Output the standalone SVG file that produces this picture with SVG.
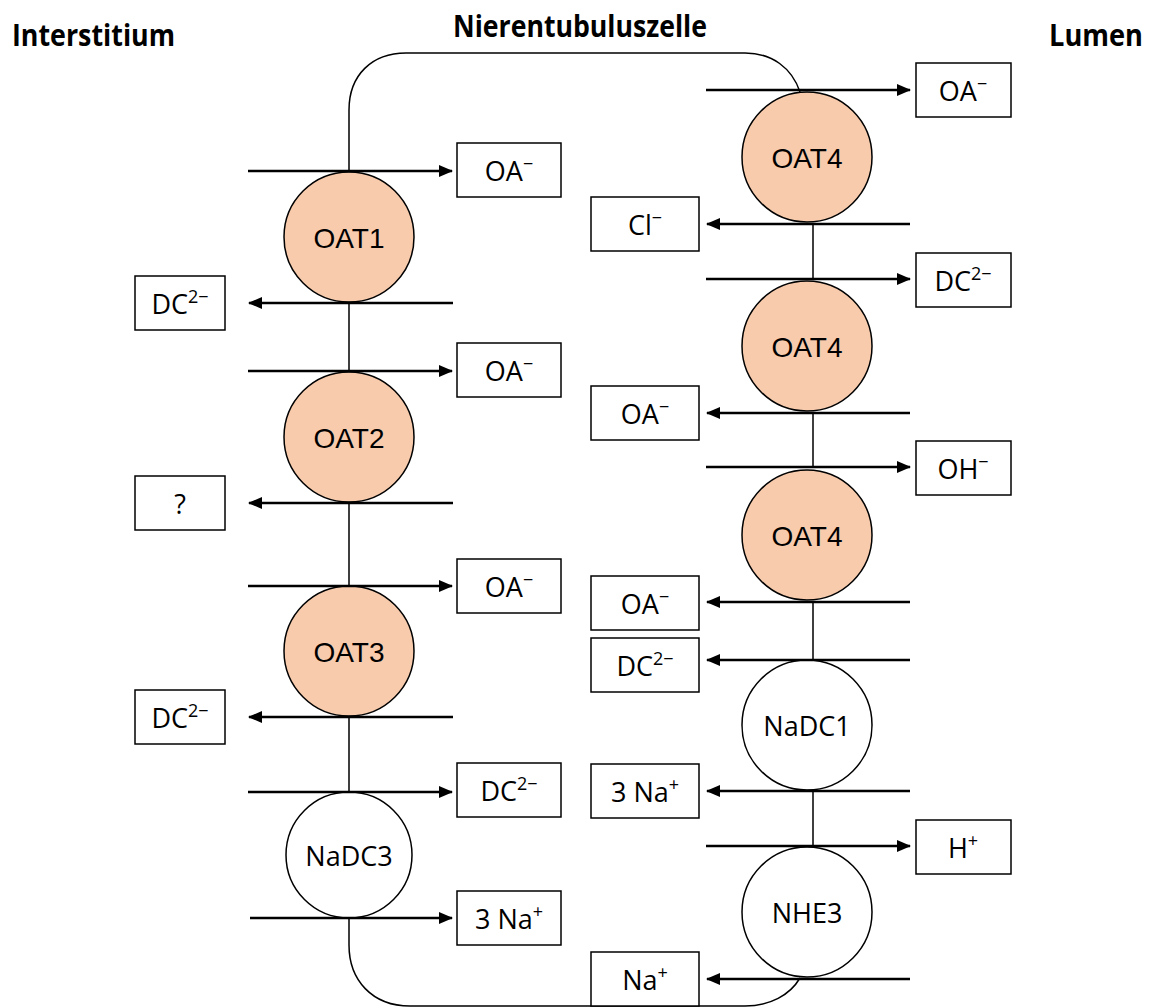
<svg xmlns="http://www.w3.org/2000/svg" width="1156" height="1008" viewBox="0 0 1156 1008">
<style>
.title{font-family:"Open Sans","Liberation Sans",sans-serif;font-weight:bold;font-size:30px;fill:#000}
.lbl{font-family:"Open Sans","Liberation Sans",sans-serif;font-size:27px;fill:#000;text-anchor:middle}
.oatl{font-family:"Liberation Sans",Arial,sans-serif;font-size:28px;fill:#000;text-anchor:middle}
.sup{font-size:18px}
.box{fill:#fff;stroke:#000;stroke-width:1.5}
.oat{fill:#F8CBAD;stroke:#000;stroke-width:1.5}
.plain{fill:#fff;stroke:#000;stroke-width:1.5}
.arr{stroke:#000;stroke-width:2.5;fill:none;marker-end:url(#ah)}
.mem{stroke:#000;stroke-width:1.5;fill:none}
</style>
<defs>
<marker id="ah" markerUnits="userSpaceOnUse" markerWidth="14" markerHeight="12" refX="13" refY="6" orient="auto">
<path d="M0,0 L14,6 L0,12 z" fill="#000"/>
</marker>
</defs>
<rect width="1156" height="1008" fill="#fff"/>

<text class="title" x="12" y="46" textLength="163" lengthAdjust="spacingAndGlyphs">Interstitium</text>
<text class="title" x="453" y="37" textLength="254" lengthAdjust="spacingAndGlyphs">Nierentubuluszelle</text>
<text class="title" x="1049" y="46" textLength="94" lengthAdjust="spacingAndGlyphs">Lumen</text>

<g id="membrane">
<path class="mem" d="M349,171 V110 C349,75 372,53 406,53 H745 C772,53 792,68 800,92"/>
<path class="mem" d="M349,918 V945 C349,980 372,1006 410,1006 H745 C770,1006 790,995 800,978"/>
<path class="mem" d="M349,303 V371 M349,503 V586 M349,717 V792"/>
<path class="mem" d="M813,224 V279 M813,413 V467 M813,602 V660 M813,791 V846"/>
</g>

<g id="OAT1"><circle class="oat" cx="349" cy="237" r="65"/><text class="oatl" x="349" y="248">OAT1</text></g>
<g id="OAT2"><circle class="oat" cx="349" cy="437" r="65"/><text class="oatl" x="349" y="448">OAT2</text></g>
<g id="OAT3"><circle class="oat" cx="349" cy="651" r="65"/><text class="oatl" x="349" y="662">OAT3</text></g>
<g id="NaDC3"><circle class="plain" cx="349" cy="855" r="63"/><text class="lbl" x="349" y="866">NaDC3</text></g>

<g id="OAT4a"><circle class="oat" cx="807" cy="157" r="65"/><text class="oatl" x="807" y="168">OAT4</text></g>
<g id="OAT4b"><circle class="oat" cx="807" cy="346" r="65"/><text class="oatl" x="807" y="357">OAT4</text></g>
<g id="OAT4c"><circle class="oat" cx="807" cy="535" r="65"/><text class="oatl" x="807" y="546">OAT4</text></g>
<g id="NaDC1"><circle class="plain" cx="807" cy="725" r="65"/><text class="lbl" x="807" y="736">NaDC1</text></g>
<g id="NHE3"><circle class="plain" cx="807" cy="912" r="65"/><text class="lbl" x="807" y="923">NHE3</text></g>

<g id="connectors">
<line class="arr" x1="248" y1="171" x2="452" y2="171"/>
<line class="arr" x1="453" y1="303" x2="249" y2="303"/>
<line class="arr" x1="248" y1="371" x2="452" y2="371"/>
<line class="arr" x1="453" y1="503" x2="249" y2="503"/>
<line class="arr" x1="248" y1="586" x2="452" y2="586"/>
<line class="arr" x1="453" y1="717" x2="249" y2="717"/>
<line class="arr" x1="248" y1="792" x2="452" y2="792"/>
<line class="arr" x1="250" y1="918" x2="452" y2="918"/>
<line class="arr" x1="706" y1="90" x2="910" y2="90"/>
<line class="arr" x1="910" y1="224" x2="707" y2="224"/>
<line class="arr" x1="706" y1="279" x2="910" y2="279"/>
<line class="arr" x1="910" y1="413" x2="707" y2="413"/>
<line class="arr" x1="706" y1="467" x2="910" y2="467"/>
<line class="arr" x1="910" y1="602" x2="707" y2="602"/>
<line class="arr" x1="910" y1="660" x2="707" y2="660"/>
<line class="arr" x1="910" y1="791" x2="707" y2="791"/>
<line class="arr" x1="706" y1="846" x2="910" y2="846"/>
<line class="arr" x1="910" y1="979" x2="707" y2="979"/>
</g>

<g id="L_OA1"><rect class="box" x="457" y="143" width="104" height="54"/><text class="lbl" x="509" y="181">OA<tspan class="sup" dy="-11">−</tspan></text></g>
<g id="L_DC1"><rect class="box" x="135" y="276" width="90" height="54"/><text class="lbl" x="180" y="314">DC<tspan class="sup" dy="-11">2−</tspan></text></g>
<g id="L_OA2"><rect class="box" x="457" y="343" width="104" height="54"/><text class="lbl" x="509" y="381">OA<tspan class="sup" dy="-11">−</tspan></text></g>
<g id="L_Q"><rect class="box" x="135" y="476" width="90" height="54"/><text class="lbl" x="180" y="514">?</text></g>
<g id="L_OA3"><rect class="box" x="457" y="559" width="104" height="54"/><text class="lbl" x="509" y="597">OA<tspan class="sup" dy="-11">−</tspan></text></g>
<g id="L_DC2"><rect class="box" x="135" y="690" width="90" height="54"/><text class="lbl" x="180" y="728">DC<tspan class="sup" dy="-11">2−</tspan></text></g>
<g id="L_DC3"><rect class="box" x="457" y="763" width="104" height="54"/><text class="lbl" x="509" y="801">DC<tspan class="sup" dy="-11">2−</tspan></text></g>
<g id="L_Na3"><rect class="box" x="457" y="891" width="104" height="54"/><text class="lbl" x="509" y="929">3 Na<tspan class="sup" dy="-11">+</tspan></text></g>

<g id="R_OA1"><rect class="box" x="916" y="63" width="95" height="54"/><text class="lbl" x="963" y="101">OA<tspan class="sup" dy="-11">−</tspan></text></g>
<g id="R_Cl"><rect class="box" x="591" y="197" width="108" height="54"/><text class="lbl" x="645" y="235">Cl<tspan class="sup" dy="-11">−</tspan></text></g>
<g id="R_DC1"><rect class="box" x="916" y="253" width="95" height="54"/><text class="lbl" x="963" y="291">DC<tspan class="sup" dy="-11">2−</tspan></text></g>
<g id="R_OA2"><rect class="box" x="591" y="386" width="108" height="54"/><text class="lbl" x="645" y="424">OA<tspan class="sup" dy="-11">−</tspan></text></g>
<g id="R_OH"><rect class="box" x="916" y="441" width="95" height="54"/><text class="lbl" x="963" y="479">OH<tspan class="sup" dy="-11">−</tspan></text></g>
<g id="R_OA3"><rect class="box" x="591" y="576" width="108" height="54"/><text class="lbl" x="645" y="614">OA<tspan class="sup" dy="-11">−</tspan></text></g>
<g id="R_DC2"><rect class="box" x="591" y="638" width="108" height="54"/><text class="lbl" x="645" y="676">DC<tspan class="sup" dy="-11">2−</tspan></text></g>
<g id="R_Na3"><rect class="box" x="591" y="764" width="108" height="54"/><text class="lbl" x="645" y="802">3 Na<tspan class="sup" dy="-11">+</tspan></text></g>
<g id="R_H"><rect class="box" x="916" y="820" width="95" height="54"/><text class="lbl" x="963" y="858">H<tspan class="sup" dy="-11">+</tspan></text></g>
<g id="R_Na"><rect class="box" x="591" y="952" width="108" height="54"/><text class="lbl" x="645" y="990">Na<tspan class="sup" dy="-11">+</tspan></text></g>
</svg>
